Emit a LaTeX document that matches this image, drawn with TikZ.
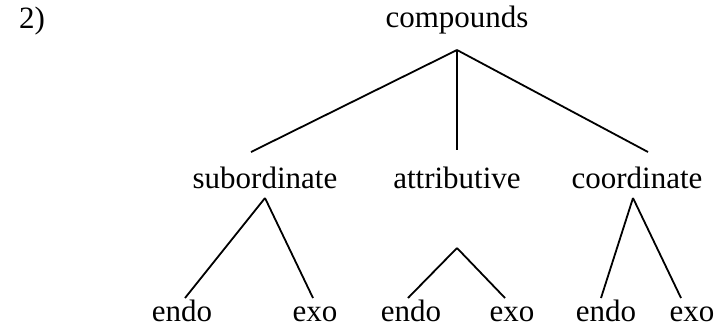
\documentclass[tikz,border=0pt]{standalone}
\usepackage{fontspec}
\setmainfont{Liberation Serif}

\begin{document}
\begin{tikzpicture}[x=0.5pt,y=-0.5pt,
  word/.style={inner sep=0pt,anchor=base,font=\fontsize{15.5}{18}\selectfont},
  branch/.style={line width=0.9pt}]
\useasboundingbox (0,0) rectangle (717,333);

% labels
\node [word] (num) at (32,28) {2)};
\node [word] (comp) at (457,27) {compounds};
\node [word] (sub) at (265,188) {subordinate};
\node [word] (attr) at (457,188) {attributive};
\node [word] (coord) at (637,188) {coordinate};
\node [word] (sub-endo) at (182,321) {endo};
\node [word] (sub-exo) at (315,321) {exo};
\node [word] (attr-endo) at (411,321) {endo};
\node [word] (attr-exo) at (512,321) {exo};
\node [word] (coord-endo) at (606,321) {endo};
\node [word] (coord-exo) at (692,321) {exo};

% branch points
\coordinate (comp-t) at (457,50);
\coordinate (sub-b) at (251,152);
\coordinate (attr-b) at (457,150);
\coordinate (coord-b) at (648,152);
\coordinate (sub-t) at (265,198);
\coordinate (attr-t) at (457,248);
\coordinate (coord-t) at (633,198);
\coordinate (sub-endo-b) at (185,298);
\coordinate (sub-exo-b) at (313,298);
\coordinate (attr-endo-b) at (408,298);
\coordinate (attr-exo-b) at (505,298);
\coordinate (coord-endo-b) at (601,298);
\coordinate (coord-exo-b) at (681,298);

\draw [branch] (comp-t) -- (sub-b);
\draw [branch] (comp-t) -- (attr-b);
\draw [branch] (comp-t) -- (coord-b);

\draw [branch] (sub-t) -- (sub-endo-b);
\draw [branch] (sub-t) -- (sub-exo-b);
\draw [branch] (attr-t) -- (attr-endo-b);
\draw [branch] (attr-t) -- (attr-exo-b);
\draw [branch] (coord-t) -- (coord-endo-b);
\draw [branch] (coord-t) -- (coord-exo-b);

\end{tikzpicture}
\end{document}
